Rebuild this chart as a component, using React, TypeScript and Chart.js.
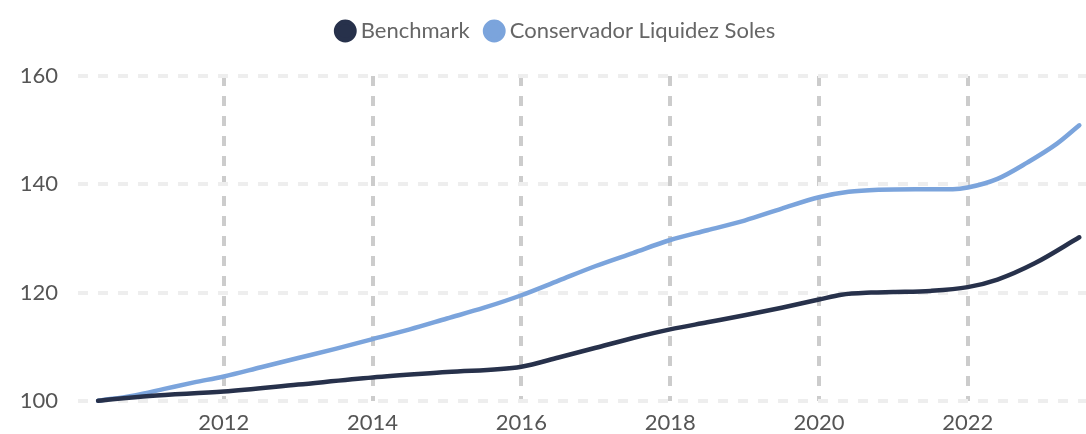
import React, { useEffect, useRef } from "react";
import { Chart, registerables } from "chart.js";

Chart.register(...registerables);

const seriesNames = ["Benchmark", "Conservador Liquidez Soles"];
const seriesColors = ["#27314b", "#7ba4dc"];

const benchmarkYears = [2010.31, 2011.0, 2012.0, 2013.0, 2014.0, 2015.0, 2016.0, 2016.5, 2017.0, 2017.5, 2018.0, 2018.5, 2019.0, 2019.5, 2020.0, 2020.3, 2020.7, 2021.0, 2021.5, 2022.0, 2022.4, 2022.9, 2023.5];
const benchmarkValues = [100.0, 100.9, 101.7, 103.0, 104.3, 105.3, 106.3, 108.0, 109.8, 111.6, 113.2, 114.5, 115.8, 117.2, 118.7, 119.6, 120.0, 120.1, 120.3, 121.0, 122.4, 125.4, 130.2];

const fundYears = [2010.31, 2010.8, 2011.2, 2011.6, 2012.0, 2012.5, 2013.0, 2013.5, 2014.0, 2014.5, 2015.0, 2015.5, 2016.0, 2016.5, 2017.0, 2017.5, 2018.0, 2018.5, 2019.0, 2019.5, 2020.0, 2020.4, 2020.8, 2021.3, 2021.8, 2022.0, 2022.4, 2022.8, 2023.2, 2023.5];
const fundValues = [100.0, 101.0, 102.2, 103.4, 104.5, 106.2, 107.9, 109.6, 111.4, 113.2, 115.2, 117.2, 119.5, 122.2, 124.9, 127.3, 129.7, 131.5, 133.3, 135.5, 137.6, 138.6, 139.0, 139.1, 139.1, 139.4, 141.0, 144.0, 147.5, 150.9];

const xTickYears = [2012, 2014, 2016, 2018, 2020, 2022];
const yTickValues = [100, 120, 140, 160];

const LEGEND_H = 76;
const LEGEND_SHIFT = 15;

const legendSpacer = {
  id: "legendSpacer",
  beforeLayout(chart: any) {
    const lg: any = chart.legend;
    if (lg && !lg._patched) {
      const orig = lg.fit.bind(lg);
      lg.fit = function () {
        orig();
        this.height = LEGEND_H;
      };
      lg._patched = true;
    }
  },
  afterLayout(chart: any) {
    const lg: any = chart.legend;
    if (lg) {
      lg.left += LEGEND_SHIFT;
      lg.right += LEGEND_SHIFT;
    }
  },
};

export default function App() {
  const ref = useRef<HTMLCanvasElement | null>(null);
  useEffect(() => {
    if (!ref.current) return;
    const toPts = (xs: number[], ys: number[]) => xs.map((x, i) => ({ x, y: ys[i] }));
    const font = "Lato, 'Open Sans', sans-serif";
    const chart = new Chart(ref.current, {
      type: "line",
      data: {
        datasets: [
          {
            label: seriesNames[0],
            data: toPts(benchmarkYears, benchmarkValues),
            borderColor: seriesColors[0],
            backgroundColor: seriesColors[0],
            borderWidth: 4.5,
            pointRadius: 0,
            cubicInterpolationMode: "monotone",
            borderCapStyle: "round",
            clip: false as any,
          },
          {
            label: seriesNames[1],
            data: toPts(fundYears, fundValues),
            borderColor: seriesColors[1],
            backgroundColor: seriesColors[1],
            borderWidth: 4.5,
            pointRadius: 0,
            cubicInterpolationMode: "monotone",
            borderCapStyle: "round",
            clip: false as any,
          },
        ],
      },
      options: {
        responsive: false,
        animation: false,
        layout: { padding: { left: 0, right: 0, top: 0, bottom: 0 } },
        plugins: {
          legend: {
            position: "top",
            labels: {
              usePointStyle: true,
              pointStyle: "circle",
              boxWidth: 9,
              boxHeight: 13,
              padding: 20,
              color: "#666666",
              font: { family: font, size: 22 },
            },
          },
          tooltip: { enabled: false },
        },
        scales: {
          x: {
            type: "linear",
            min: 2010.04,
            max: 2023.59,
            afterBuildTicks: (scale: any) => {
              scale.ticks = xTickYears.map((v) => ({ value: v }));
            },
            afterFit: (scale: any) => {
              scale.height = 33;
            },
            ticks: {
              padding: 9,
              color: "#555555",
              font: { family: font, size: 22 },
              callback: (v: any) => String(v),
              maxRotation: 0,
              autoSkip: false,
            },
            grid: { color: "#cccccc", lineWidth: 4, drawTicks: false },
            border: { display: false, dash: [10, 10] },
          },
          y: {
            min: 100,
            max: 160,
            afterBuildTicks: (scale: any) => {
              scale.ticks = yTickValues.map((v) => ({ value: v }));
            },
            afterFit: (scale: any) => {
              scale.width = 78;
            },
            ticks: {
              padding: 20,
              color: "#555555",
              font: { family: font, size: 22 },
              callback: (v: any) => String(v),
            },
            grid: { color: "#eeeeee", lineWidth: 4, drawTicks: false },
            border: { display: false, dash: [10, 10] },
          },
        },
      },
      plugins: [legendSpacer],
    });
    return () => chart.destroy();
  }, []);
  return (
    <div style={{ position: "absolute", left: 0, top: 0, width: 1086, height: 434, background: "#fff" }}>
      <canvas ref={ref} width={1086} height={434} />
    </div>
  );
}
